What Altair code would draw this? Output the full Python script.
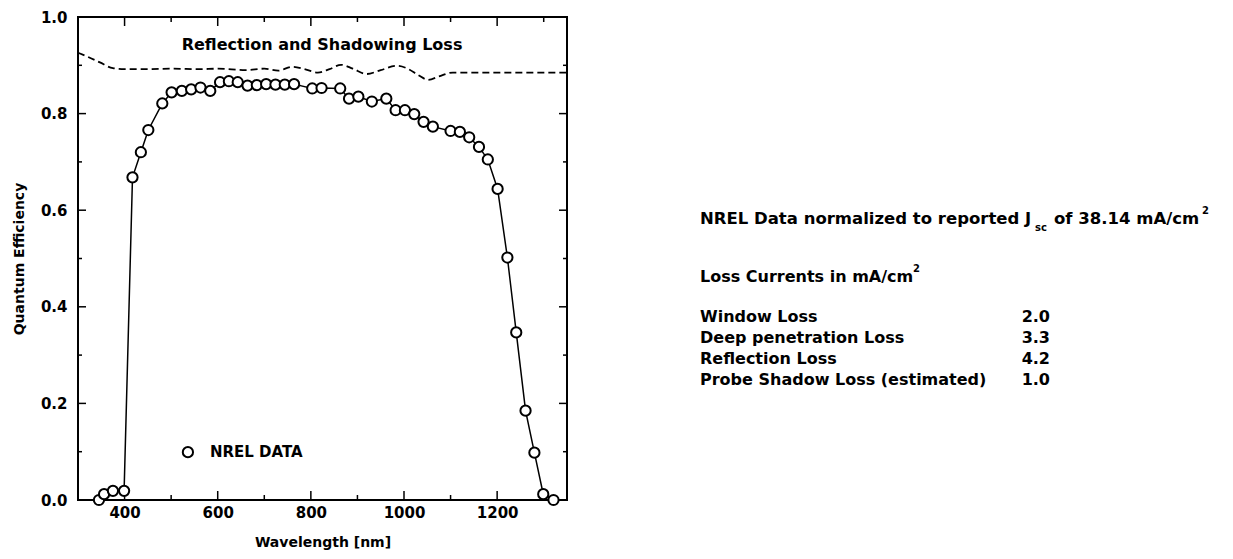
import altair as alt
import pandas as pd

# ---- data ----
wavelength = [345, 356, 375, 399, 417, 435, 451, 481, 501, 523, 543, 563, 584, 605, 624, 643,
              664, 684, 704, 724, 744, 764, 803, 823, 863, 882, 902, 931, 962, 982, 1002, 1022,
              1042, 1062, 1100, 1120, 1140, 1161, 1180, 1201, 1222, 1241, 1261, 1280, 1299, 1321]
quantum_eff = [0.000, 0.012, 0.019, 0.019, 0.668, 0.720, 0.766, 0.821, 0.844, 0.847, 0.850, 0.854,
               0.847, 0.865, 0.867, 0.865, 0.858, 0.859, 0.861, 0.860, 0.860, 0.861, 0.852, 0.853,
               0.852, 0.831, 0.835, 0.825, 0.831, 0.807, 0.807, 0.799, 0.783, 0.773, 0.764, 0.762,
               0.751, 0.731, 0.705, 0.644, 0.502, 0.347, 0.185, 0.098, 0.012, 0.000]

refl_wavelength = [300, 320, 347, 375, 400, 450, 500, 560, 600, 660, 700, 730, 760, 790, 815,
                   840, 865, 890, 920, 950, 985, 1010, 1030, 1052, 1075, 1105, 1200, 1350]
refl_qe = [0.926, 0.918, 0.906, 0.894, 0.892, 0.892, 0.893, 0.892, 0.893, 0.890, 0.893, 0.889,
           0.897, 0.891, 0.885, 0.892, 0.901, 0.893, 0.882, 0.890, 0.899, 0.892, 0.880, 0.870,
           0.877, 0.885, 0.885, 0.885]

x_label_ticks = [400, 600, 800, 1000, 1200]
x_minor_ticks = [500, 700, 900, 1100, 1300]
y_label_ticks = [0.0, 0.2, 0.4, 0.6, 0.8, 1.0]
y_minor_ticks = [0.1, 0.3, 0.5, 0.7, 0.9]

legend_x = [536]
legend_y = [0.099]
legend_text = ["NREL DATA"]
curve_label = ["Reflection and Shadowing Loss"]
curve_label_x = [824]
curve_label_y = [0.942]

header_parts = ["NREL Data normalized to reported J", "sc", "of 38.14 mA/cm", "2"]
loss_header = ["Loss Currents in mA/cm", "2"]
loss_labels = ["Window Loss", "Deep penetration Loss", "Reflection Loss",
               "Probe Shadow Loss (estimated)"]
loss_values = ["2.0", "3.3", "4.2", "1.0"]

# ---- layout ----
W, H = 489, 483
FONT = "DejaVu Sans"
xscale = alt.Scale(domain=[300, 1350], nice=False, zero=False)
yscale = alt.Scale(domain=[0, 1], nice=False)

main_df = pd.DataFrame({"wavelength": wavelength, "qe": quantum_eff})
refl_df = pd.DataFrame({"wavelength": refl_wavelength, "qe": refl_qe})

xaxis = alt.Axis(values=x_label_ticks, format="d", ticks=False, tickSize=0, domain=False,
                 grid=False, labelFont=FONT, labelFontWeight="bold", labelFontSize=15,
                 labelColor="black", labelPadding=5, title="Wavelength [nm]", titleFont=FONT,
                 titleFontWeight="bold", titleFontSize=14, titleColor="black", titlePadding=15)
yaxis = alt.Axis(values=y_label_ticks, format=".1f", ticks=False, tickSize=0, domain=False,
                 grid=False, labelFont=FONT, labelFontWeight="bold", labelFontSize=15,
                 labelColor="black", labelPadding=11, title="Quantum Efficiency", titleFont=FONT,
                 titleFontWeight="bold", titleFontSize=14, titleColor="black", titlePadding=14)


def X(field):
    return alt.X(field, scale=xscale, axis=xaxis)


def Y(field):
    return alt.Y(field, scale=yscale, axis=yaxis)


line = alt.Chart(main_df).mark_line(color="black", strokeWidth=1.5).encode(
    x=X("wavelength:Q"), y=Y("qe:Q"))
points = alt.Chart(main_df).mark_point(shape="circle", filled=True, fill="white", stroke="black",
                                       strokeWidth=2, size=105, opacity=1).encode(
    x=X("wavelength:Q"), y=Y("qe:Q"))
refl = alt.Chart(refl_df).mark_line(color="black", strokeWidth=1.8, strokeDash=[7, 4],
                                    interpolate="monotone").encode(
    x=X("wavelength:Q"), y=Y("qe:Q"))


def xticks(vals, length, top):
    y0 = 0 if top else H
    y1 = length if top else H - length
    return alt.Chart(pd.DataFrame({"wavelength": vals})).mark_rule(
        color="black", strokeWidth=1.5).encode(
        x=X("wavelength:Q"), y=alt.value(y0), y2=alt.value(y1))


def yticks(vals, length, right):
    x0 = W if right else 0
    x1 = W - length if right else length
    return alt.Chart(pd.DataFrame({"qe": vals})).mark_rule(
        color="black", strokeWidth=1.5).encode(
        y=Y("qe:Q"), x=alt.value(x0), x2=alt.value(x1))


tick_layers = [
    xticks(x_label_ticks, 9, False), xticks(x_minor_ticks, 5, False),
    xticks(x_label_ticks, 9, True), xticks(x_minor_ticks, 5, True),
    yticks(y_label_ticks, 8, False), yticks(y_minor_ticks, 4, False),
    yticks(y_label_ticks, 8, True), yticks(y_minor_ticks, 4, True),
]

legend_df = pd.DataFrame({"wavelength": legend_x, "qe": legend_y, "t": legend_text})
legend_pt = alt.Chart(legend_df).mark_point(
    shape="circle", filled=True, fill="white", stroke="black", strokeWidth=2, size=105, opacity=1
).encode(x=X("wavelength:Q"), y=Y("qe:Q"))
legend_txt = alt.Chart(legend_df).mark_text(
    align="left", baseline="middle", dx=22, font=FONT, fontWeight="bold", fontSize=15, color="black"
).encode(x=X("wavelength:Q"), y=Y("qe:Q"), text="t:N")
curve_df = pd.DataFrame({"wavelength": curve_label_x, "qe": curve_label_y, "t": curve_label})
curve_txt = alt.Chart(curve_df).mark_text(
    align="center", baseline="middle", font=FONT, fontWeight="bold", fontSize=16, color="black"
).encode(x=X("wavelength:Q"), y=Y("qe:Q"), text="t:N")


def ptext(text, x, y, size, align="left"):
    return alt.Chart(pd.DataFrame({"t": [text]})).mark_text(
        align=align, baseline="middle", font=FONT, fontWeight="bold", fontSize=size, color="black"
    ).encode(x=alt.value(x), y=alt.value(y), text="t:N")


OX, OY = 78, 17  # plot origin in page pixels
text_layers = [
    ptext(header_parts[0], 700 - OX, 219 - OY, 16.5),
    ptext(header_parts[1], 1035 - OX, 228 - OY, 10),
    ptext(header_parts[2], 1054 - OX, 219 - OY, 16.5),
    ptext(header_parts[3], 1202 - OX, 211 - OY, 10),
    ptext(loss_header[0], 700 - OX, 277 - OY, 16),
    ptext(loss_header[1], 913 - OX, 269 - OY, 10),
]
for i, (lab, val) in enumerate(zip(loss_labels, loss_values)):
    yy = 317 + 21 * i - OY
    text_layers.append(ptext(lab, 700 - OX, yy, 16))
    text_layers.append(ptext(val, 1050 - OX, yy, 16, align="right"))

chart = alt.layer(
    line, refl, *tick_layers, points, legend_pt, legend_txt, curve_txt, *text_layers
).properties(
    width=W, height=H,
    autosize=alt.AutoSizeParams(type="none"),
    padding={"left": OX - 8, "top": OY - 8, "right": 652, "bottom": 50},
    background="white",
).configure_view(stroke="black", strokeWidth=2)

chart.save("out.html", embed_options={"renderer": "svg", "actions": False})
